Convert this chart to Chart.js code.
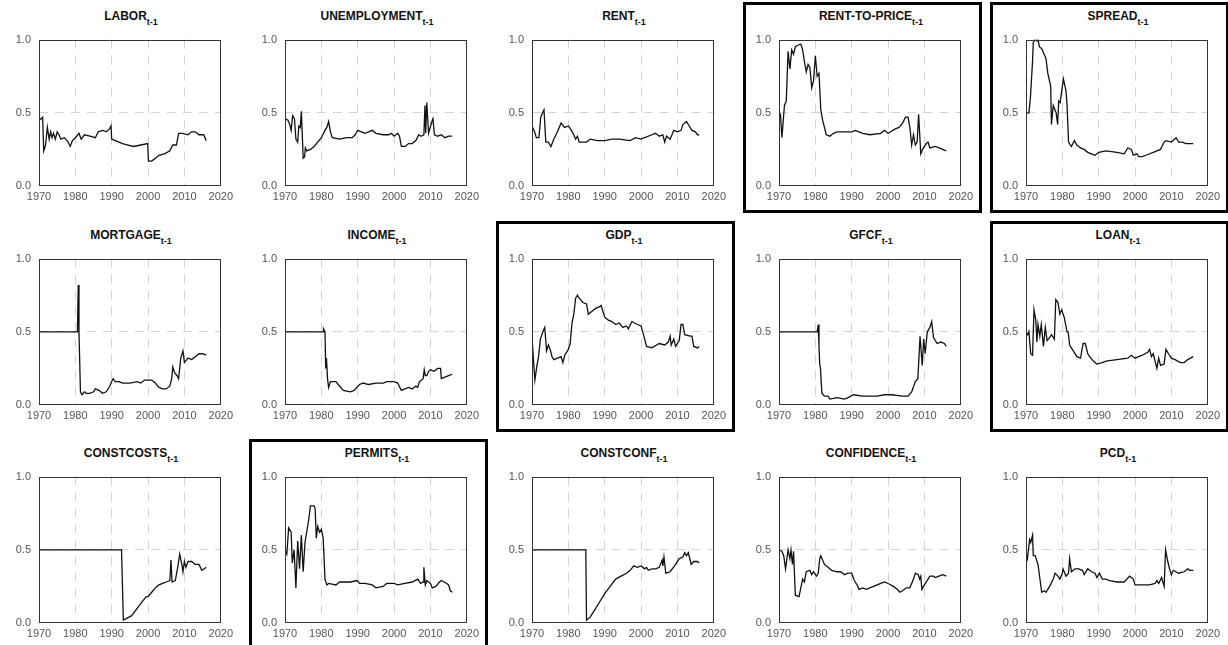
<!DOCTYPE html>
<html>
<head>
<meta charset="utf-8">
<script src="https://cdn.jsdelivr.net/npm/chart.js@4.4.1/dist/chart.umd.min.js"></script>
<style>
  body { margin: 0; background: #fff; width: 1228px; height: 645px; overflow: hidden; position: relative; font-family: "Liberation Sans", Arial, sans-serif; }
  .panel { position: absolute; }
  .title { position: absolute; font-weight: bold; font-size: 12px; line-height: 14px; color: #111; text-align: center; white-space: nowrap; }
  .title sub { font-size: 9px; position: relative; top: 2px; vertical-align: sub; line-height: 0; }
  .box { position: absolute; border: 3px solid #000; box-sizing: border-box; }
</style>
</head>
<body>
<script>
// tick labels
let xTicks = [1970, 1980, 1990, 2000, 2010, 2020];
let yTicks = [0, 0.5, 1];

// series as [year, value]
let labor = [[1970,0.45],[1970.6,0.46],[1971,0.47],[1971.3,0.24],[1971.8,0.28],[1972.3,0.40],[1972.8,0.32],[1973.2,0.37],[1973.6,0.33],[1974,0.36],[1974.5,0.32],[1975,0.37],[1975.5,0.35],[1976,0.32],[1977,0.33],[1978,0.30],[1978.6,0.27],[1979.2,0.31],[1980,0.33],[1981,0.36],[1981.6,0.32],[1982.5,0.35],[1984,0.34],[1985.5,0.33],[1986.3,0.37],[1987.5,0.38],[1988.5,0.37],[1989.4,0.39],[1989.8,0.41],[1990,0.32],[1991,0.31],[1992,0.30],[1993,0.29],[1994.5,0.28],[1996,0.27],[1998,0.28],[1999.9,0.29],[2000.1,0.17],[2001,0.17],[2002,0.19],[2003,0.21],[2004.5,0.22],[2006,0.24],[2006.8,0.28],[2007.8,0.28],[2008.4,0.36],[2009.5,0.36],[2011,0.35],[2012,0.37],[2013,0.37],[2014,0.35],[2015.3,0.35],[2016,0.31]];
let unemployment = [[1970,0.46],[1970.8,0.45],[1971.3,0.42],[1971.7,0.38],[1972.1,0.48],[1972.6,0.46],[1973,0.32],[1973.5,0.30],[1973.8,0.41],[1974.2,0.40],[1974.5,0.51],[1975,0.19],[1975.4,0.20],[1975.6,0.26],[1976,0.24],[1977,0.25],[1978,0.27],[1979,0.30],[1980,0.33],[1981,0.38],[1981.5,0.40],[1982,0.44],[1982.5,0.37],[1983,0.33],[1985,0.32],[1987,0.33],[1988.5,0.33],[1989.3,0.35],[1990,0.38],[1991,0.37],[1992,0.36],[1993,0.37],[1994,0.38],[1995,0.36],[1997,0.35],[1998.5,0.35],[1999.3,0.36],[2000,0.34],[2001,0.36],[2001.5,0.34],[2002,0.27],[2003,0.27],[2004,0.29],[2005,0.29],[2006,0.31],[2006.8,0.35],[2007.4,0.34],[2008.2,0.35],[2008.5,0.55],[2008.7,0.36],[2009,0.57],[2009.5,0.36],[2010.4,0.44],[2010.7,0.46],[2011.1,0.35],[2012,0.34],[2013,0.35],[2014,0.33],[2015,0.34],[2016,0.34]];
let rent = [[1970,0.41],[1970.7,0.37],[1971.2,0.33],[1971.9,0.33],[1972.4,0.47],[1972.9,0.50],[1973.3,0.52],[1973.8,0.30],[1974.5,0.30],[1975.2,0.27],[1976,0.32],[1977,0.37],[1978,0.43],[1979,0.40],[1980,0.41],[1980.6,0.39],[1981.5,0.35],[1982,0.32],[1982.5,0.34],[1983,0.30],[1985,0.30],[1986,0.32],[1988,0.31],[1990,0.31],[1992,0.32],[1994,0.32],[1997,0.31],[1998.5,0.33],[2000,0.32],[2001,0.33],[2003,0.35],[2004,0.36],[2005,0.34],[2006,0.35],[2006.5,0.30],[2007,0.34],[2008,0.32],[2009,0.38],[2010,0.37],[2011,0.38],[2011.5,0.42],[2012.5,0.44],[2013,0.42],[2014,0.38],[2015,0.37],[2015.5,0.35],[2016,0.35]];
let rentToPrice = [[1970,0.50],[1970.4,0.49],[1970.8,0.33],[1971.5,0.55],[1972,0.58],[1972.5,0.92],[1973,0.80],[1973.5,0.93],[1974,0.90],[1974.5,0.95],[1975,0.96],[1976,0.97],[1976.5,0.93],[1977,0.85],[1977.5,0.78],[1978,0.83],[1978.5,0.81],[1979,0.67],[1979.5,0.72],[1980,0.89],[1980.5,0.75],[1981,0.77],[1981.5,0.52],[1982,0.45],[1983,0.35],[1984,0.34],[1985,0.36],[1986,0.37],[1988,0.37],[1990,0.37],[1991,0.38],[1993,0.36],[1995,0.35],[1998,0.36],[1999,0.38],[2000,0.36],[2002,0.39],[2003,0.40],[2004,0.43],[2004.8,0.47],[2005.5,0.47],[2006,0.40],[2006.5,0.28],[2007,0.35],[2007.5,0.28],[2008,0.30],[2008.4,0.49],[2009,0.22],[2009.5,0.25],[2010.5,0.29],[2011,0.30],[2011.5,0.26],[2013,0.27],[2014,0.26],[2015,0.25],[2016,0.24]];
let spread = [[1970,0.50],[1970.8,0.50],[1971.2,0.60],[1971.8,0.85],[1972,0.98],[1972.5,1.00],[1973,0.99],[1973.3,1.00],[1973.7,0.95],[1974.3,0.94],[1975,0.90],[1975.5,0.87],[1976,0.77],[1976.8,0.68],[1977,0.42],[1977.5,0.55],[1978.3,0.50],[1978.7,0.42],[1979,0.58],[1979.4,0.57],[1980,0.68],[1980.3,0.73],[1981,0.65],[1981.3,0.55],[1981.7,0.30],[1982.5,0.27],[1983.3,0.31],[1984,0.28],[1985,0.26],[1986,0.25],[1987,0.23],[1988,0.22],[1989,0.21],[1990,0.23],[1992,0.24],[1995,0.23],[1997,0.22],[1998,0.26],[1999,0.25],[1999.5,0.21],[2000.5,0.22],[2001,0.20],[2002,0.20],[2003,0.21],[2005,0.23],[2007,0.25],[2008,0.30],[2008.5,0.31],[2010,0.30],[2011.3,0.33],[2012,0.30],[2013,0.30],[2014,0.29],[2015,0.29],[2016,0.29]];
let mortgage = [[1970,0.50],[1980.5,0.50],[1980.6,0.55],[1980.8,0.82],[1981,0.50],[1981.4,0.09],[1981.8,0.07],[1982.5,0.09],[1983,0.08],[1984,0.08],[1985,0.09],[1985.5,0.11],[1986.5,0.10],[1987.5,0.08],[1988.5,0.09],[1989.5,0.13],[1990,0.16],[1990.4,0.18],[1991,0.16],[1992,0.16],[1993,0.15],[1995,0.15],[1997,0.16],[1998,0.15],[1999,0.17],[2001,0.17],[2002,0.15],[2003,0.12],[2004,0.11],[2005,0.11],[2006,0.13],[2006.5,0.18],[2006.8,0.26],[2007.3,0.22],[2008,0.20],[2008.4,0.18],[2009,0.32],[2009.6,0.37],[2010,0.29],[2011,0.32],[2012,0.31],[2013,0.33],[2014,0.35],[2015,0.35],[2016,0.34]];
let income = [[1970,0.50],[1980.5,0.50],[1980.6,0.52],[1981,0.50],[1981.2,0.25],[1981.4,0.32],[1981.7,0.18],[1982,0.12],[1982.5,0.16],[1984,0.16],[1985,0.13],[1986,0.10],[1988,0.09],[1989,0.10],[1990.5,0.14],[1991.5,0.15],[1993,0.14],[1995,0.15],[1997,0.15],[1998,0.16],[2000,0.16],[2001,0.15],[2002,0.10],[2003,0.11],[2004,0.12],[2005,0.11],[2006,0.13],[2006.5,0.12],[2007,0.16],[2008,0.18],[2008.3,0.24],[2008.6,0.20],[2009,0.20],[2009.5,0.23],[2010,0.24],[2011,0.23],[2012,0.25],[2012.8,0.25],[2013,0.18],[2014,0.19],[2015,0.20],[2016,0.21]];
let gdp = [[1970,0.47],[1970.5,0.27],[1970.8,0.17],[1971.3,0.26],[1971.8,0.33],[1972.3,0.45],[1973,0.50],[1973.5,0.53],[1974,0.37],[1974.5,0.41],[1975,0.38],[1975.5,0.33],[1976,0.31],[1977,0.32],[1978,0.33],[1978.5,0.29],[1979,0.34],[1980,0.38],[1980.5,0.42],[1981,0.56],[1981.5,0.62],[1982,0.73],[1982.5,0.75],[1983,0.73],[1984,0.70],[1985,0.69],[1985.5,0.62],[1986.5,0.64],[1987.5,0.66],[1988.5,0.67],[1989,0.68],[1990,0.60],[1991,0.58],[1992,0.57],[1993,0.55],[1994,0.56],[1995,0.53],[1996,0.54],[1996.5,0.52],[1997.5,0.57],[1999,0.55],[2000,0.54],[2001,0.45],[2001.5,0.40],[2003,0.39],[2005,0.42],[2006.5,0.41],[2007.5,0.43],[2008,0.47],[2008.3,0.41],[2009,0.45],[2009.5,0.40],[2010.5,0.44],[2011,0.55],[2011.5,0.55],[2012,0.48],[2013.5,0.47],[2014,0.47],[2014.5,0.40],[2015.5,0.39],[2016,0.40]];
let gfcf = [[1970,0.50],[1980.5,0.50],[1980.8,0.55],[1981,0.40],[1981.2,0.28],[1981.4,0.25],[1981.8,0.08],[1982.5,0.06],[1983.5,0.06],[1984,0.04],[1986,0.05],[1988,0.04],[1989,0.05],[1990.5,0.07],[1993,0.06],[1997,0.06],[1999,0.07],[2001,0.07],[2004,0.06],[2005.5,0.06],[2006.5,0.09],[2007.5,0.16],[2008.2,0.18],[2008.8,0.47],[2009.4,0.27],[2009.8,0.45],[2010.2,0.35],[2010.8,0.50],[2011.5,0.53],[2012,0.57],[2012.5,0.46],[2013.5,0.42],[2014.5,0.43],[2015.5,0.42],[2016,0.40]];
let loan = [[1970,0.50],[1970.5,0.48],[1970.8,0.50],[1971.3,0.35],[1971.8,0.34],[1972.2,0.65],[1972.7,0.58],[1973,0.43],[1973.3,0.55],[1973.8,0.47],[1974.2,0.55],[1974.8,0.40],[1975.3,0.53],[1975.8,0.44],[1976.5,0.46],[1977,0.48],[1977.8,0.45],[1978.2,0.72],[1978.8,0.70],[1979.3,0.62],[1979.8,0.65],[1980.5,0.60],[1981.3,0.50],[1981.6,0.50],[1982,0.41],[1983,0.37],[1984,0.33],[1985,0.32],[1985.7,0.42],[1986.3,0.42],[1987,0.35],[1987.5,0.33],[1988.5,0.30],[1989.5,0.28],[1991,0.29],[1992,0.30],[1995,0.31],[1998,0.32],[1999,0.34],[2000,0.32],[2001,0.33],[2002,0.34],[2003.5,0.36],[2004,0.38],[2004.5,0.33],[2005,0.35],[2006,0.25],[2006.5,0.32],[2007,0.27],[2008,0.28],[2008.5,0.38],[2009.2,0.35],[2010,0.32],[2011,0.31],[2012.5,0.29],[2013.5,0.29],[2014.5,0.31],[2016,0.33]];
let constcosts = [[1970,0.50],[1992.7,0.50],[1993.2,0.02],[1994,0.03],[1995.5,0.05],[1997,0.10],[1998.5,0.15],[1999.5,0.18],[2000,0.18],[2001,0.21],[2002,0.24],[2003,0.26],[2004,0.27],[2005,0.28],[2006,0.29],[2006.3,0.43],[2006.6,0.28],[2007.5,0.29],[2008.3,0.40],[2008.7,0.47],[2009.3,0.40],[2009.6,0.35],[2010,0.42],[2010.4,0.38],[2011,0.42],[2012,0.42],[2013,0.40],[2014,0.40],[2014.8,0.36],[2015.5,0.37],[2016,0.38]];
let permits = [[1970,0.50],[1970.5,0.47],[1971,0.65],[1971.7,0.62],[1972,0.41],[1972.5,0.50],[1973,0.24],[1973.5,0.56],[1974,0.37],[1974.5,0.60],[1975,0.35],[1975.5,0.55],[1976.5,0.70],[1977,0.80],[1978,0.80],[1978.3,0.78],[1978.6,0.58],[1979,0.66],[1979.5,0.62],[1980,0.64],[1980.5,0.58],[1981,0.30],[1981.5,0.26],[1982,0.27],[1984,0.26],[1985,0.28],[1988,0.28],[1989.8,0.29],[1990.5,0.27],[1992,0.27],[1994,0.26],[1995,0.24],[1997,0.25],[1998,0.27],[2000,0.27],[2001,0.26],[2003,0.27],[2005,0.28],[2006.5,0.30],[2007.3,0.27],[2008,0.28],[2008.2,0.38],[2008.6,0.26],[2009,0.29],[2010,0.27],[2010.5,0.24],[2011.5,0.25],[2012.5,0.28],[2013,0.29],[2014.5,0.27],[2015,0.26],[2015.5,0.22],[2016,0.21]];
let constconf = [[1970,0.50],[1984.8,0.50],[1985,0.02],[1986,0.04],[1987,0.08],[1988.5,0.14],[1990,0.20],[1991.5,0.25],[1993,0.30],[1994.5,0.32],[1996,0.34],[1997,0.36],[1998,0.39],[1999,0.38],[2000,0.39],[2001,0.37],[2001.5,0.38],[2002,0.36],[2003,0.37],[2004,0.37],[2005,0.38],[2005.8,0.43],[2006,0.39],[2006.3,0.45],[2006.8,0.34],[2008,0.35],[2009.5,0.40],[2010.5,0.44],[2011.5,0.45],[2012,0.48],[2012.5,0.46],[2013,0.48],[2013.8,0.40],[2014.5,0.42],[2015.5,0.42],[2016,0.41]];
let confidence = [[1970,0.50],[1970.8,0.49],[1971.3,0.46],[1971.8,0.37],[1972.5,0.50],[1973,0.44],[1973.3,0.50],[1973.7,0.40],[1974,0.49],[1974.5,0.19],[1975.5,0.18],[1976,0.24],[1976.5,0.30],[1977,0.28],[1977.5,0.35],[1978.5,0.36],[1979,0.33],[1979.5,0.35],[1980.3,0.32],[1980.8,0.34],[1981.2,0.44],[1981.5,0.46],[1982.5,0.40],[1983.5,0.38],[1984.5,0.36],[1986,0.35],[1987,0.35],[1988,0.33],[1989,0.34],[1990,0.34],[1990.7,0.29],[1991.5,0.26],[1992,0.23],[1993,0.24],[1994,0.23],[1996,0.25],[1997,0.26],[1998,0.27],[1999,0.28],[2000,0.27],[2001.5,0.25],[2002.5,0.23],[2003.3,0.21],[2004,0.22],[2005,0.24],[2006,0.24],[2007,0.30],[2007.5,0.34],[2008.3,0.33],[2008.7,0.30],[2009,0.32],[2009.3,0.23],[2010,0.26],[2011,0.30],[2011.5,0.32],[2012.5,0.32],[2013,0.31],[2014,0.32],[2015,0.33],[2016,0.32]];
let pcd = [[1970,0.48],[1970.4,0.44],[1971,0.57],[1971.3,0.55],[1971.8,0.60],[1972,0.46],[1972.5,0.46],[1973.3,0.40],[1974,0.27],[1974.3,0.21],[1975,0.22],[1975.5,0.21],[1976.5,0.25],[1977.5,0.30],[1978,0.34],[1978.8,0.32],[1979.3,0.30],[1980,0.34],[1980.2,0.37],[1981,0.32],[1981.7,0.34],[1982,0.44],[1982.5,0.35],[1983.5,0.37],[1984.5,0.37],[1985.5,0.36],[1986,0.33],[1987,0.37],[1988,0.35],[1989,0.34],[1989.5,0.31],[1990.2,0.34],[1991,0.30],[1992,0.30],[1993,0.29],[1995,0.28],[1997,0.28],[1998.5,0.32],[1999.5,0.30],[2000,0.26],[2001,0.26],[2003,0.26],[2004,0.26],[2005.5,0.27],[2006,0.29],[2006.5,0.27],[2007.3,0.31],[2008,0.25],[2008.4,0.50],[2009,0.42],[2009.5,0.37],[2010,0.33],[2010.5,0.36],[2012,0.34],[2013.5,0.35],[2014.5,0.37],[2015,0.36],[2016,0.36]];

let names = ['LABOR', 'UNEMPLOYMENT', 'RENT', 'RENT-TO-PRICE', 'SPREAD',
             'MORTGAGE', 'INCOME', 'GDP', 'GFCF', 'LOAN',
             'CONSTCOSTS', 'PERMITS', 'CONSTCONF', 'CONFIDENCE', 'PCD'];
let series = [labor, unemployment, rent, rentToPrice, spread,
              mortgage, income, gdp, gfcf, loan,
              constcosts, permits, constconf, confidence, pcd];
let boxed = ['RENT-TO-PRICE', 'SPREAD', 'GDP', 'LOAN', 'PERMITS'];

// layout of the grid of small plots
let plotW = 184, plotH = 153;
let yAxisW = 38, padTop = 8, padRight = 14, xAxisH = 24;

// frame around the plotting area
let frame = {
    id: 'frame',
    afterDraw(chart) {
        let a = chart.chartArea;
        let ctx = chart.ctx;
        ctx.save();
        ctx.strokeStyle = '#333';
        ctx.lineWidth = 1;
        ctx.strokeRect(Math.round(a.left) + 0.5, Math.round(a.top) + 0.5, Math.round(a.right - a.left) - 1, Math.round(a.bottom - a.top) - 1);
        ctx.restore();
    }
};

function gridColor(c, min, max) {
    if (c.tick && (c.tick.value === min || c.tick.value === max)) return 'rgba(0,0,0,0)';
    return '#d4d4d4';
}

for (let i = 0; i < names.length; i++) {
    let row = Math.floor(i / 5);
    let col = i % 5;
    let plotLeft = Math.round(38.5 + col * 246.8);
    let plotTop = Math.round(33 + row * 218.5);

    if (boxed.includes(names[i])) {
        let b = document.createElement('div');
        b.className = 'box';
        b.style.left = (plotLeft - 36) + 'px';
        b.style.top = (plotTop - 31) + 'px';
        b.style.width = '239px';
        b.style.height = '211px';
        document.body.appendChild(b);
    }

    let t = document.createElement('div');
    t.className = 'title';
    t.style.left = plotLeft + 'px';
    t.style.width = plotW + 'px';
    t.style.top = (plotTop - 24) + 'px';
    t.innerHTML = names[i] + '<sub>t-1</sub>';
    document.body.appendChild(t);

    let c = document.createElement('canvas');
    c.className = 'panel';
    let cw = yAxisW + plotW + padRight;
    let ch = padTop + plotH + xAxisH;
    c.width = cw;
    c.height = ch;
    c.style.left = (plotLeft - yAxisW) + 'px';
    c.style.top = (plotTop - padTop) + 'px';
    c.style.width = cw + 'px';
    c.style.height = ch + 'px';
    document.body.appendChild(c);

    new Chart(c, {
        type: 'line',
        data: {
            datasets: [{
                data: series[i].map(p => ({ x: p[0], y: p[1] })),
                borderColor: '#111',
                borderWidth: 1.3,
                pointRadius: 0,
                tension: 0,
                fill: false
            }]
        },
        options: {
            responsive: false,
            animation: false,
            layout: { padding: { top: padTop, right: padRight, left: 0, bottom: 0 } },
            plugins: { legend: { display: false }, tooltip: { enabled: false } },
            scales: {
                x: {
                    type: 'linear',
                    min: xTicks[0],
                    max: xTicks[xTicks.length - 1],
                    afterBuildTicks: s => { s.ticks = xTicks.map(v => ({ value: v })); },
                    afterFit: s => { s.height = xAxisH; },
                    grid: { color: ctx => gridColor(ctx, xTicks[0], xTicks[xTicks.length - 1]), drawTicks: false, lineWidth: 1 },
                    border: { display: false, dash: [9, 7] },
                    ticks: { color: '#555', padding: 4, maxRotation: 0, autoSkip: false, font: { family: 'Liberation Sans', size: 11 }, callback: v => String(v) }
                },
                y: {
                    min: yTicks[0],
                    max: yTicks[yTicks.length - 1],
                    afterBuildTicks: s => { s.ticks = yTicks.map(v => ({ value: v })); },
                    afterFit: s => { s.width = yAxisW; },
                    grid: { color: ctx => gridColor(ctx, yTicks[0], yTicks[yTicks.length - 1]), drawTicks: false, lineWidth: 1 },
                    border: { display: false, dash: [9, 7] },
                    ticks: { color: '#555', padding: 8, font: { family: 'Liberation Sans', size: 11 }, callback: v => Number(v).toFixed(1) }
                }
            }
        },
        plugins: [frame]
    });
}
</script>
</body>
</html>
